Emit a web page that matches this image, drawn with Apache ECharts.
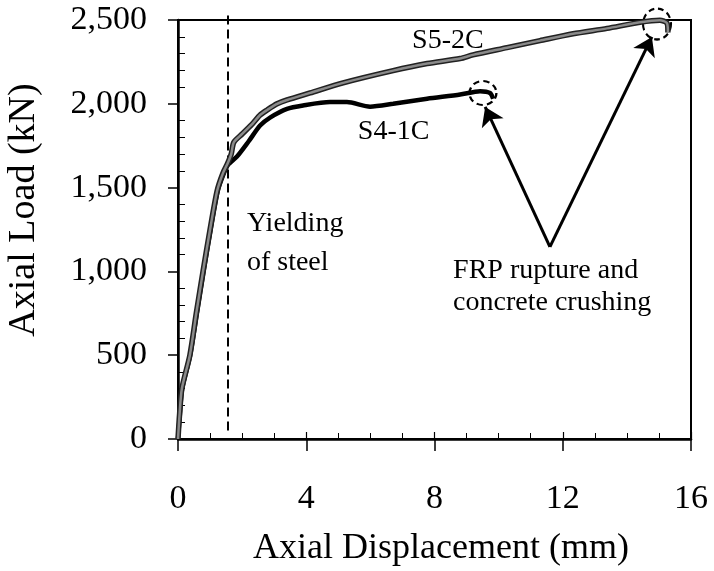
<!DOCTYPE html>
<html>
<head>
<meta charset="utf-8">
<script src="https://cdn.jsdelivr.net/npm/echarts@6/dist/echarts.min.js"></script>
<style>html,body{margin:0;padding:0;background:#fff}#c{width:714px;height:571px}</style>
</head>
<body>
<div id="c"></div>
<script>
// ---- data (x: axial displacement mm, y: axial load kN) ----
var xTicks = [0, 4, 8, 12, 16];
var yTicks = [0, 500, 1000, 1500, 2000, 2500];
var s5_2C = [[0,0],[0.05,150],[0.12,300],[0.37,500],[0.57,750],[0.78,1000],[1.0,1250],[1.22,1480],[1.4,1585],[1.56,1650],[1.66,1700],[1.74,1770],[2.0,1820],[2.34,1885],[2.56,1933],[2.78,1963],[3.09,2000],[3.4,2023],[4.12,2065],[5.15,2125],[6.71,2198],[7.77,2240],[8.8,2270],[9.2,2292],[10.26,2335],[11.29,2377],[12.32,2418],[13.38,2450],[14.41,2486],[15.03,2498],[15.25,2482],[15.28,2425]];
var s4_1C = [[0,0],[0.06,150],[0.13,300],[0.38,500],[0.59,750],[0.8,1000],[1.02,1250],[1.24,1480],[1.42,1580],[1.56,1635],[1.84,1685],[2.2,1775],[2.56,1870],[2.87,1918],[3.4,1970],[3.9,1990],[4.74,2010],[5.27,2010],[5.99,1983],[6.71,2000],[7.77,2030],[8.8,2055],[9.42,2075],[9.73,2064],[9.83,2030]];
var yieldX = 1.56;
var yieldLine = [[yieldX, 50], [yieldX, 2530]];
var ruptureApex = [11.6, 1146];
var ruptureS4 = [9.58, 1981];
var ruptureS5 = [14.78, 2399];
var circleS4 = [9.51, 2064];
var circleS5 = [14.94, 2476];
var notes = [
  {name: 'S5-2C', value: [7.30, 2378]},
  {name: 'S4-1C', value: [5.61, 1832]},
  {name: 'Yielding\nof steel', value: [2.15, 1166], lh: 39},
  {name: 'FRP rupture and\nconcrete crushing', value: [8.58, 907], lh: 32}
];

var FONT = 'Liberation Serif';
var chart = echarts.init(document.getElementById('c'), null, {renderer: 'canvas'});
function baseX(extra) {
  return Object.assign({
    type: 'value', min: 0, max: 16, interval: 4, position: 'bottom',
    splitLine: {show: false}
  }, extra);
}
function baseY(extra) {
  return Object.assign({
    type: 'value', min: 0, max: 2500, interval: 500, position: 'left',
    splitLine: {show: false}
  }, extra);
}
chart.setOption({
  backgroundColor: '#fff',
  animation: false,
  grid: {left: 178, right: 23, top: 20, bottom: 132, show: true, borderColor: '#000', borderWidth: 2, backgroundColor: 'transparent'},
  xAxis: [
    baseX({
      axisLine: {show: true, lineStyle: {color: '#000', width: 2.5}},
      axisTick: {show: true, inside: false, length: 12, lineStyle: {color: '#000', width: 1.5}},
      axisLabel: {show: true, color: '#000', fontFamily: FONT, fontSize: 34, margin: 43,
        customValues: xTicks, formatter: function (v) { return String(v); }}
    }),
    baseX({
      axisLine: {show: false},
      axisTick: {show: true, inside: true, length: 7, lineStyle: {color: '#000', width: 1.2}},
      minorTick: {show: true, splitNumber: 4, length: 6, lineStyle: {color: '#000', width: 1}},
      axisLabel: {show: false}
    })
  ],
  yAxis: [
    baseY({
      axisLine: {show: true, lineStyle: {color: '#000', width: 2.5}},
      axisTick: {show: true, inside: false, length: 10, lineStyle: {color: '#000', width: 1.5}},
      axisLabel: {show: true, color: '#000', fontFamily: FONT, fontSize: 34, margin: 31,
        customValues: yTicks,
        formatter: function (v) { return v.toLocaleString('en-US'); }}
    }),
    baseY({
      axisLine: {show: false},
      axisTick: {show: false, inside: true},
      minorTick: {show: true, splitNumber: 5, length: 7, lineStyle: {color: '#000', width: 1}},
      axisLabel: {show: false}
    })
  ],
  series: [
    {
      name: 'Yielding', type: 'lines', coordinateSystem: 'cartesian2d', clip: false,
      symbol: ['none', 'none'], silent: true,
      lineStyle: {color: '#000', width: 2, type: [9, 5], opacity: 1},
      data: [{coords: yieldLine}]
    },
    {
      name: 'S4-1C', type: 'line', data: s4_1C, showSymbol: false, symbol: 'none', smooth: 0.25, clip: false,
      lineStyle: {color: '#000', width: 4.5}
    },
    {
      name: 'S5-2C outline', type: 'line', data: s5_2C, showSymbol: false, symbol: 'none', smooth: 0.25, clip: false,
      lineStyle: {color: '#222', width: 5.5}
    },
    {
      name: 'S5-2C', type: 'line', data: s5_2C, showSymbol: false, symbol: 'none', smooth: 0.25, clip: false,
      lineStyle: {color: '#8a8a8a', width: 2.5}
    },
    {
      name: 'Rupture arrows', type: 'lines', coordinateSystem: 'cartesian2d', clip: false,
      symbol: ['none', 'arrow'], symbolSize: [10, 18], silent: true,
      lineStyle: {color: '#000', width: 3, opacity: 1},
      data: [{coords: [ruptureApex, ruptureS4]}, {coords: [ruptureApex, ruptureS5]}]
    },
    {
      name: 'Rupture circles', type: 'scatter', clip: false, silent: true,
      symbol: 'circle',
      itemStyle: {color: 'rgba(0,0,0,0)', borderColor: '#000', borderWidth: 2.2, borderType: [6, 4], opacity: 1},
      data: [
        {value: circleS4, symbolSize: [27, 24]},
        {value: circleS5, symbolSize: [28, 31]}
      ]
    },
    {
      name: 'Notes', type: 'scatter', clip: false, silent: true, symbolSize: 0,
      itemStyle: {opacity: 1},
      data: notes.map(function (n) {
        return {name: n.name, value: n.value, label: {lineHeight: n.lh || 32}};
      }),
      label: {
        show: true, position: 'right', distance: 0, align: 'left', opacity: 1,
        color: '#000', fontFamily: FONT, fontSize: 28, textBorderWidth: 0, textBorderColor: 'transparent',
        formatter: function (p) { return p.name; }
      }
    }
  ],
  graphic: [
    {type: 'text', x: 441, y: 549, style: {text: 'Axial Displacement (mm)', font: '36px "Liberation Serif"', fill: '#000', align: 'center', verticalAlign: 'middle'}},
    {type: 'text', x: 24, y: 210, rotation: Math.PI / 2, style: {text: 'Axial Load (kN)', font: '38px "Liberation Serif"', fill: '#000', align: 'center', verticalAlign: 'middle'}}
  ]
});
</script>
</body>
</html>
